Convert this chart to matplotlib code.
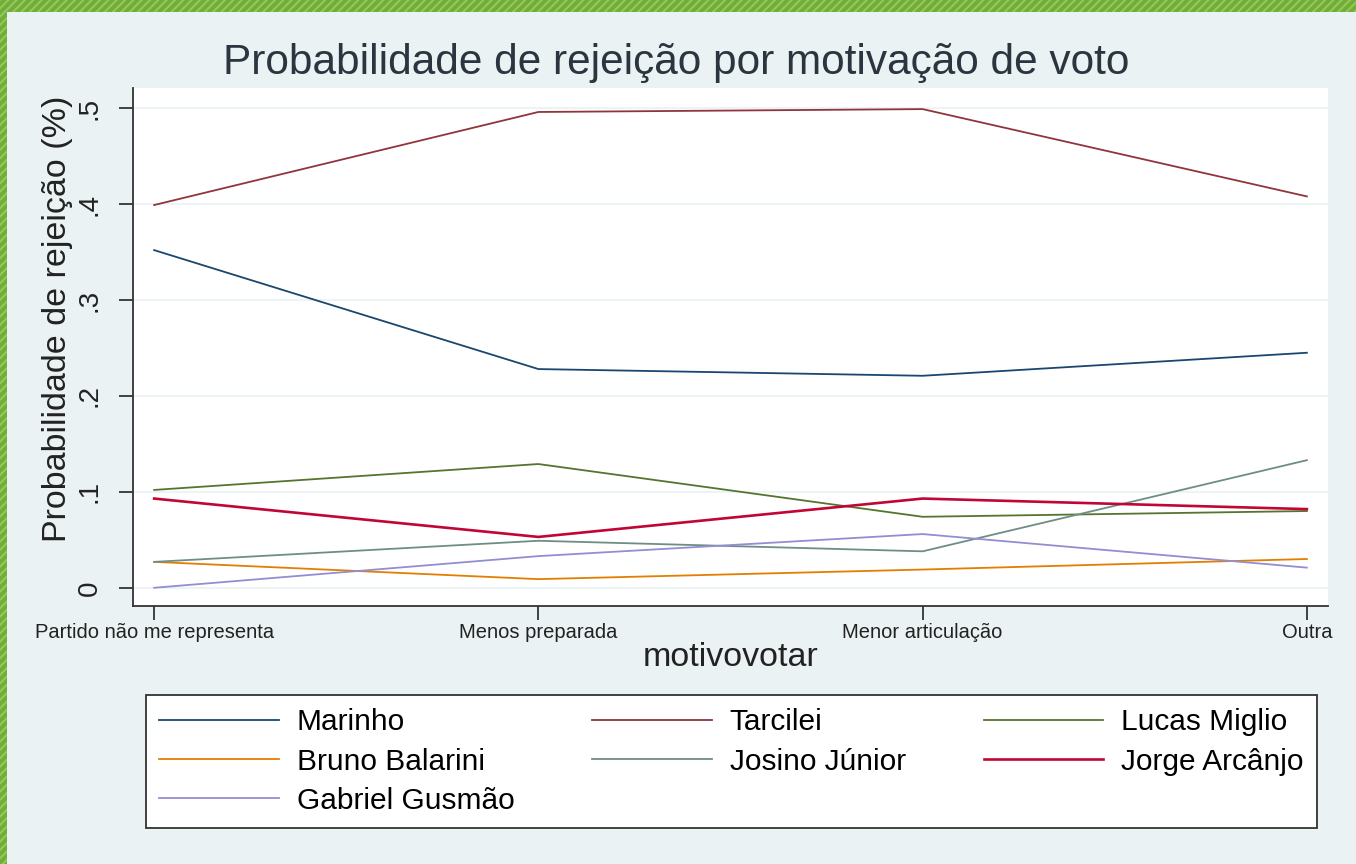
import matplotlib.pyplot as plt
from matplotlib.patches import Rectangle

# categorias do eixo x
motivos = ['Partido não me representa', 'Menos preparada', 'Menor articulação', 'Outra']

# probabilidade de rejeição por candidato
marinho = [0.352, 0.228, 0.221, 0.245]
tarcilei = [0.399, 0.496, 0.499, 0.408]
lucas_miglio = [0.102, 0.129, 0.074, 0.080]
bruno_balarini = [0.027, 0.009, 0.019, 0.030]
josino_junior = [0.027, 0.049, 0.038, 0.133]
jorge_arcanjo = [0.093, 0.053, 0.093, 0.082]
gabriel_gusmao = [0.000, 0.033, 0.056, 0.021]

yticks = [0, 0.1, 0.2, 0.3, 0.4, 0.5]
ytick_labels = ['0', '.1', '.2', '.3', '.4', '.5']

series = [
    ('Marinho', marinho, '#1a476f', 1.3),
    ('Tarcilei', tarcilei, '#90353b', 1.3),
    ('Lucas Miglio', lucas_miglio, '#55752f', 1.3),
    ('Bruno Balarini', bruno_balarini, '#e37e00', 1.3),
    ('Josino Júnior', josino_junior, '#6e8e84', 1.3),
    ('Jorge Arcânjo', jorge_arcanjo, '#c10534', 1.9),
    ('Gabriel Gusmão', gabriel_gusmao, '#938dd2', 1.3),
]

plt.rcParams['font.family'] = ['Liberation Sans', 'DejaVu Sans']
plt.rcParams['hatch.linewidth'] = 1.5

W, H = 1356, 864
fig = plt.figure(figsize=(W / 100, H / 100), dpi=100)

# moldura verde listrada do slide
fig.patch.set_facecolor('#72ad3a')
fig.patches.append(Rectangle((0, 0), 1, 1, transform=fig.transFigure,
                             facecolor='none', edgecolor='#93c95a',
                             hatch='////', linewidth=0, zorder=0))
fig.patches.append(Rectangle((7 / W, 0), 1 - 7 / W, 1 - 12 / H,
                             transform=fig.transFigure, facecolor='#eaf2f3',
                             edgecolor='none', zorder=1))

ax = fig.add_axes([133 / W, 1 - 606 / H, (1328 - 133) / W, (606 - 88) / H])
ax.set_facecolor('white')
ax.set_zorder(2)

x = list(range(len(motivos)))
handles = {}
for name, vals, color, lw in series:
    ln, = ax.plot(x, vals, color=color, linewidth=lw, label=name)
    handles[name] = ln

ax.set_xlim(-0.055, 3.055)
ax.set_ylim(-0.019, 0.521)
ax.set_xticks(x)
ax.set_xticklabels(motivos, fontsize=14.5, color='#222222')
ax.set_yticks(yticks)
ax.set_yticklabels(ytick_labels, fontsize=20, rotation=90, va='center', color='#222222')
ax.tick_params(axis='both', length=10, width=1.3, color='#333333')
ax.tick_params(axis='x', pad=2)
ax.tick_params(axis='y', pad=12)
ax.yaxis.grid(True, color='#eaf2f3', linewidth=1.2)
ax.set_axisbelow(True)

for s in ['top', 'right']:
    ax.spines[s].set_visible(False)
for s in ['left', 'bottom']:
    ax.spines[s].set_color('#333333')
    ax.spines[s].set_linewidth(1.3)

ax.set_ylabel('Probabilidade de rejeição (%)', fontsize=24.5, color='#222222')
ax.yaxis.set_label_coords((58 - 133) / (1328 - 133), (606 - 319) / (606 - 88))
ax.yaxis.label.set_va('center')
ax.set_xlabel('motivovotar', fontsize=24.5, color='#222222')
ax.xaxis.set_label_coords(0.5, -(657 - 606) / (606 - 88))
ax.xaxis.label.set_va('center')

fig.text(676 / W, 1 - 63 / H, 'Probabilidade de rejeição por motivação de voto',
         fontsize=30.5, color='#2a3540', ha='center', va='center', zorder=3)

# ordem por colunas para que a leitura fique por linhas
ordem = ['Marinho', 'Bruno Balarini', 'Gabriel Gusmão', 'Tarcilei',
         'Josino Júnior', 'Lucas Miglio', 'Jorge Arcânjo']
leg = fig.legend([handles[n] for n in ordem], ordem, ncol=3, mode='expand',
                 loc='center', fontsize=21.5,
                 bbox_to_anchor=(146 / W, 1 - 830 / H, (1317 - 146) / W, (830 - 693) / H),
                 borderaxespad=0, frameon=True, fancybox=False, framealpha=1,
                 edgecolor='#333333', handlelength=4.0, handletextpad=0.6,
                 labelspacing=0.38, borderpad=0.45, columnspacing=1.0)
leg.get_frame().set_linewidth(1.3)
leg.get_frame().set_facecolor('white')
leg.set_zorder(3)

fig.savefig('out.png', dpi=100, facecolor=fig.get_facecolor())
